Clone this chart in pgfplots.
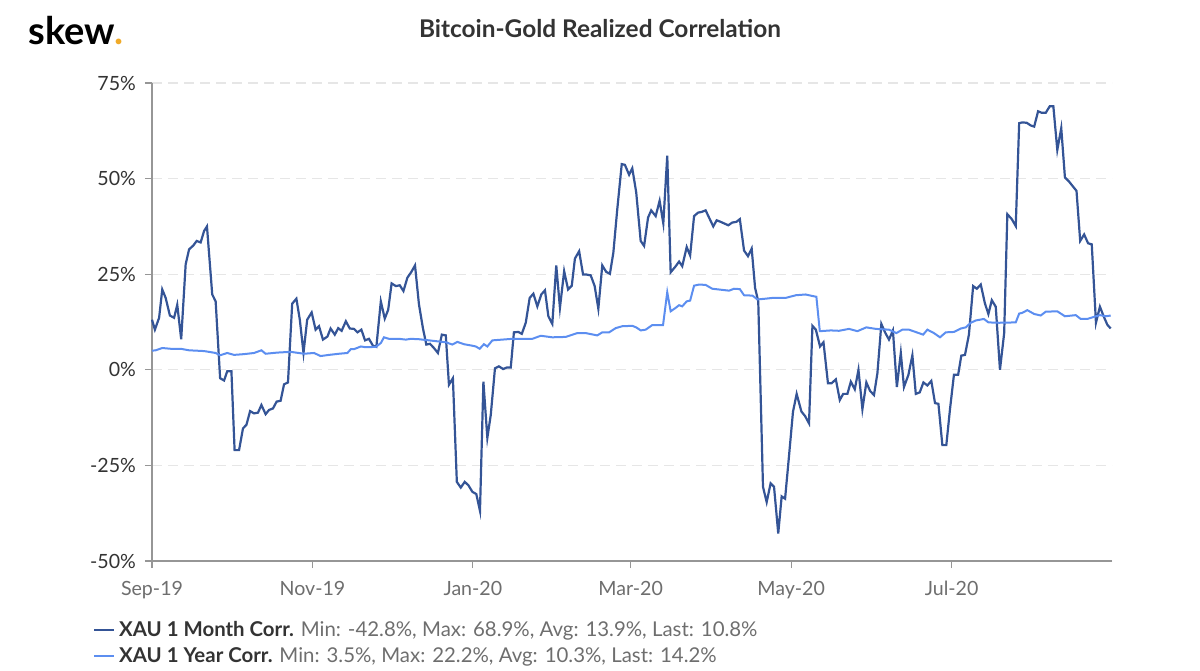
\documentclass[border=0pt]{standalone}
\usepackage{fontspec}
\setmainfont{Lato}
\usepackage{pgfplots}
\pgfplotsset{compat=1.18}
\definecolor{darkser}{RGB}{52,84,150}
\definecolor{lightser}{RGB}{92,142,240}
\definecolor{gridc}{RGB}{230,230,230}
\definecolor{axisc}{RGB}{150,150,150}
\definecolor{titlec}{RGB}{51,51,51}
\definecolor{graytxt}{RGB}{110,110,110}
\definecolor{skeworange}{RGB}{240,170,40}
\begin{document}
\begin{tikzpicture}
\useasboundingbox (0,0) rectangle (600pt,335pt);
\node[anchor=base west, font=\fontsize{19}{22}\selectfont\bfseries, inner sep=0pt] at (14pt,312.5pt) {skew\textcolor{skeworange}{.}};
\node[anchor=base, font=\fontsize{12.2}{14}\selectfont\bfseries, text=titlec, inner sep=0pt] at (300pt,316pt) {Bitcoin-Gold Realized Correlation};
\begin{axis}[
  at={(76pt,54.5pt)}, anchor=south west,
  width=480pt, height=239pt, scale only axis,
  xmin=0, xmax=365, ymin=-50, ymax=75,
  axis x line=bottom, axis y line=left,
  axis line style={-, draw=axisc, line width=0.8pt},
  xtick={0,61,122,182,243,304},
  xticklabels={Sep-19,Nov-19,Jan-20,Mar-20,May-20,Jul-20},
  ytick={-50,-25,0,25,50,75},
  yticklabels={-50\%,-25\%,0\%,25\%,50\%,75\%},
  tick align=outside,
  major tick length=3.5pt,
  tick style={draw=axisc, line width=0.6pt},
  x tick label style={font=\fontsize{9.8}{11}\selectfont, text=graytxt, yshift=-3pt},
  y tick label style={font=\fontsize{9.8}{11}\selectfont, text=titlec, xshift=-1pt},
  ymajorgrids, grid style={gridc, dash pattern=on 5pt off 3pt, line width=0.6pt},
  clip=false,
  legend cell align=left,
  legend style={at={(-0.064,-0.112)}, anchor=north west, draw=none, fill=none,
    font=\fontsize{10.2}{11.5}\selectfont, row sep=0pt, inner sep=1pt},
  legend image code/.code={\draw[#1] (0pt,0pt) -- (10pt,0pt);},
]
\addplot[darkser, line width=1.1pt] coordinates {
(0,13.1)(1.1,10.5)(2.7,13.6)(3.9,21)(5.2,18.8)(6.8,14.2)(8.4,13.6)(9.6,17)(11.1,8.0)
(12.8,27.6)(14.1,31.5)(15.7,32.5)(17.0,33.7)(18.5,33.3)(19.8,36.3)(20.9,37.5)(22.9,19.7)
(24.2,17.9)(25.9,-2.2)(27.4,-2.8)(28.6,-0.4)(30.2,-0.4)(31.4,-21)(33.1,-21)(34.6,-15.3)
(35.9,-14.4)(37.3,-10.8)(38.8,-11.4)(40.3,-11.2)(41.6,-9.2)(43.2,-11.6)(44.5,-10.5)
(46.0,-10.1)(47.4,-8.3)(48.9,-8.1)(50.2,-3.8)(51.7,-3.3)(53.3,17.3)(54.9,18.6)(56.2,13.1)
(57.6,4.4)(59.0,13.1)(60.7,15.0)(62.2,10.5)(63.5,11.4)(65.0,7.9)(66.7,8.7)(67.9,10.8)
(69.5,9.2)(70.8,10.9)(72.1,10.2)(73.7,12.7)(75.2,10.8)(76.8,10.7)(78.1,9.8)(79.6,10.5)
(81.0,7.7)(82.5,8.1)(84.0,6.3)(85.3,6.0)(87.0,17.9)(88.5,13.4)(89.8,15.7)(91.1,22.6)
(92.7,21.9)(94.2,22.1)(95.6,20.6)(97.1,24.1)(98.6,25.6)(100.0,27.3)(101.5,17.1)(103.0,10.9)
(104.3,6.6)(105.7,6.8)(107.2,5.7)(108.7,4.4)(110.2,9.2)(111.7,9.0)(112.9,-3.9)(114.4,-2.2)
(115.9,-29.3)(117.4,-30.8)(118.9,-29.3)(120.3,-30.2)(121.8,-31.9)(123.3,-32.5)(124.7,-36.9)
(126.0,-3.1)(127.5,-17.8)(128.8,-11.8)(130.4,0.4)(131.9,0.9)(133.5,0.2)(134.9,0.6)(136.4,0.6)
(137.6,9.8)(139.3,9.9)(140.6,9.4)(142.1,12.3)(143.6,18.8)(145.0,19.9)(146.5,16.6)(148.0,19.7)
(149.4,20.8)(150.7,14.0)(152.2,12.0)(153.7,27.3)(155.1,16.2)(156.7,25.8)(158.2,21.0)
(159.6,22.0)(160.8,29.1)(162.4,31.0)(163.9,24.9)(165.3,24.9)(166.8,24.7)(168.3,21.9)
(169.7,16.0)(171.2,27.3)(172.7,25.6)(174.1,25.1)(175.4,30.6)(176.9,42.0)(178.6,53.8)
(179.8,53.6)(181.4,51.0)(182.6,52.7)(184.1,46.4)(185.8,33.7)(187.1,32.4)(188.6,39.8)
(189.8,41.7)(191.5,40.2)(193.0,44.2)(194.4,38.3)(195.9,56.0)(197.2,25.5)(198.9,26.9)
(200.4,28.3)(201.6,27.1)(203.3,32.1)(204.6,29.9)(206.1,40.2)(207.6,41.1)(209.0,41.3)
(210.5,41.7)(211.8,39.8)(213.4,37.5)(214.7,39.1)(216.2,38.7)(217.8,38.2)(219.1,37.8)
(220.6,38.5)(222.2,38.7)(223.5,39.4)(225.1,31.2)(226.6,29.7)(228.0,31.7)(229.3,21.4)
(230.5,17.9)(232.3,-30.6)(233.7,-34.6)(235.2,-29.7)(236.5,-30.6)(238.1,-42.8)(239.4,-33.1)
(240.7,-33.7)(242.2,-22.5)(243.7,-11.0)(245.1,-6.3)(246.9,-10.9)(248.3,-12.1)(249.8,-14.0)
(251.1,11.5)(252.4,10.5)(254.0,6.1)(255.3,7.2)(257.0,-3.5)(258.4,-3.5)(260.0,-2.5)
(261.5,-7.9)(262.8,-6.3)(264.4,-6.3)(265.7,-3.1)(267.2,-5.1)(268.6,0.0)(270.1,-10.3)
(271.6,-3.3)(273.0,-5.5)(274.5,-6.6)(275.8,-0.9)(277.3,12.0)(278.7,9.8)(280.2,7.9)
(281.7,10.3)(283.2,-4.5)(284.7,4.4)(285.9,-4.5)(287.6,-1.3)(289.1,3.8)(290.4,-6.3)
(291.9,-5.9)(293.3,-3.3)(294.8,-4.1)(296.3,-2.9)(297.7,-8.7)(299.0,-8.9)(300.5,-19.7)
(302.0,-19.7)(303.4,-10.3)(304.9,-1.3)(306.5,-1.3)(307.7,3.7)(309.1,3.9)(310.6,9.2)
(312.2,21.9)(313.6,21.2)(315.1,22.3)(316.7,17.3)(318.0,14.6)(319.3,18.2)(320.8,16.5)
(322.4,0.0)(324.0,9.6)(325.2,40.7)(326.9,39.4)(328.4,37.6)(329.7,64.5)(330.9,64.7)
(332.6,64.6)(334.1,63.9)(335.4,63.6)(336.9,67.6)(338.3,67.2)(339.8,67.2)(341.3,68.9)
(342.7,68.9)(344.2,57.5)(345.7,63.2)(347.1,50.3)(348.7,49.2)(350.2,47.9)(351.5,46.8)
(352.9,33.7)(354.4,35.4)(355.9,33.1)(357.3,32.8)(358.9,12.3)(360.4,16.5)(361.7,14.2)
(363.2,11.8)(364.5,10.8)
};
\addlegendentry{\textcolor{titlec}{\bfseries XAU 1 Month Corr.} \textcolor{graytxt}{Min: -42.8\%, Max: 68.9\%, Avg: 13.9\%, Last: 10.8\%}}
\addplot[lightser, line width=1pt] coordinates {
(0,5.0)(1.4,5.1)(3.9,5.7)(7.1,5.5)(10.9,5.5)(14.1,5.1)(19.8,4.9)(24.2,4.4)(25.9,3.8)
(28.6,4.4)(31.2,3.9)(35.0,4.1)(38.8,4.4)(41.6,5.1)(43.2,4.2)(47.6,4.5)(52.7,4.7)(57.8,4.2)
(61.6,4.4)(64.1,3.6)(67.3,3.9)(71.1,4.2)(74.3,4.4)(75.6,5.4)(76.8,5.4)(79.4,6.1)(81.3,5.9)
(85.1,6.0)(87.0,7.0)(88.2,8.5)(90.1,8.1)(93.9,8.1)(96.5,7.9)(98.4,8.1)(101.5,8.0)(106.6,7.6)
(109.1,7.4)(111.7,7.2)(114.2,6.6)(116.1,7.3)(118.6,6.7)(121.8,6.3)(123.1,6.1)(124.6,5.5)
(126.2,6.7)(127.5,6.1)(129.4,7.7)(133.2,7.9)(137.0,8.1)(142.1,8.1)(144.6,8.1)(147.8,8.9)
(152.2,8.5)(157.3,8.6)(161.7,9.6)(164.9,9.6)(169.3,9.0)(171.2,9.8)(173.8,9.8)(176.3,10.9)
(178.8,11.4)(182.6,11.5)(184.1,11.1)(185.8,10.3)(187.7,10.5)(190.2,11.7)(194.3,11.7)
(195.9,20.3)(197.2,15.3)(199.1,16.2)(200.4,16.9)(201.6,16.6)(203.3,17.9)(204.6,18.1)
(206.1,22.0)(208.0,22.3)(210.5,22.2)(213.0,21.2)(215.6,21.0)(219.4,20.7)(221.3,21.2)
(223.5,21.1)(225.1,19.5)(228.3,19.4)(230.2,18.4)(233.3,18.6)(235.9,18.8)(240.9,18.8)
(244.8,19.5)(248.5,19.7)(251.1,19.3)(252.6,19.1)(253.9,10.1)(258.1,10.3)(261.2,10.2)
(265.0,10.7)(268.2,10.1)(271.6,11.1)(275.2,10.7)(280.2,10.5)(283.0,9.6)(285.3,10.5)
(287.8,10.5)(293.2,9.2)(294.8,10.5)(297.3,9.6)(299.6,8.5)(301.8,9.8)(304.9,9.9)(307.5,10.8)
(309.4,11.1)(311.3,12.3)(313.2,12.9)(316.3,13.3)(318.0,12.4)(322.1,12.3)(328.4,12.4)
(329.7,14.7)(330.9,14.9)(332.8,15.6)(335.4,14.6)(337.9,14.2)(339.8,15.2)(344.2,15.3)
(347.1,14.0)(351.2,14.3)(353.1,13.3)(355.6,13.3)(358.9,14.0)(360.4,14.3)(362.7,14.0)
(364.5,14.2)
};
\addlegendentry{\textcolor{titlec}{\bfseries XAU 1 Year Corr.} \textcolor{graytxt}{Min: 3.5\%, Max: 22.2\%, Avg: 10.3\%, Last: 14.2\%}}
\end{axis}
\end{tikzpicture}
\end{document}
